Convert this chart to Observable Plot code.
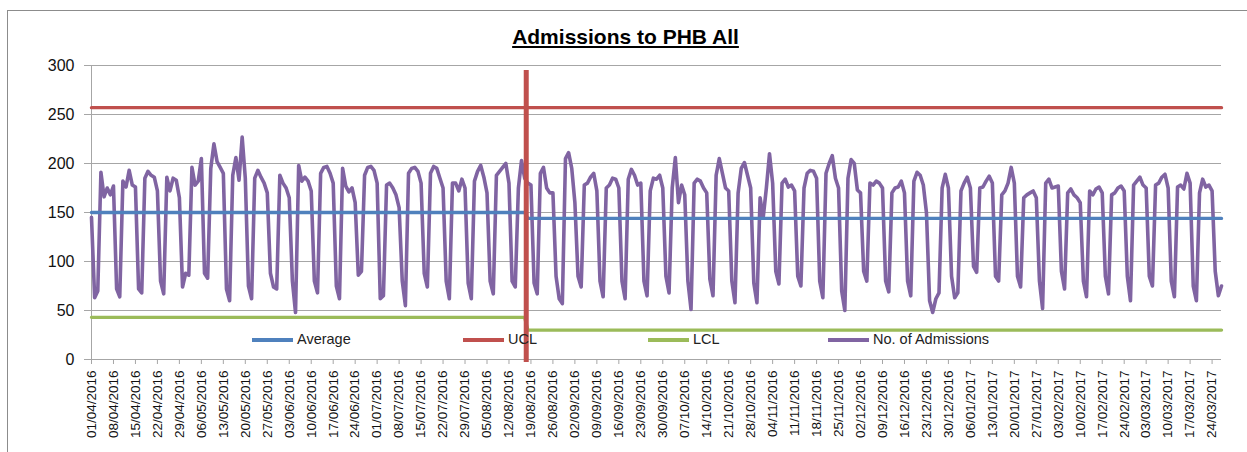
<!DOCTYPE html>
<html><head><meta charset="utf-8">
<script src="https://cdn.jsdelivr.net/npm/d3@7"></script>
<script src="https://cdn.jsdelivr.net/npm/@observablehq/plot@0.6"></script>
<style>
html,body{margin:0;padding:0;background:#fff;overflow:hidden;}
#wrap{position:relative;width:1247px;height:452px;overflow:hidden;font-family:"Liberation Sans",Arial,sans-serif;}
#border{position:absolute;left:7px;top:10px;width:1300px;height:500px;border:1px solid #8c8c8c;box-sizing:border-box;}
#title{position:absolute;left:0;width:1251px;top:25px;text-align:center;font-weight:bold;font-size:21px;text-decoration:underline;color:#000;}
#chart{position:absolute;left:0;top:0;}
.leg{position:absolute;font-size:14.5px;color:#222;white-space:nowrap;line-height:16px;}
.leg .l{position:absolute;top:6.5px;height:4px;}
</style></head><body>
<div id="wrap"><div id="border"></div><div id="chart"></div><div id="title">Admissions to PHB All</div><div id="legend"></div></div>
<script>
// Daily admissions, 01/04/2016 .. 27/03/2017, one array per month
const apr2016 = [145,63,70,191,166,175,168,177,72,64,182,176,193,178,176,72,68,185,192,188,186,172,80,67,186,172,185,183,165,74];
const may2016 = [88,86,196,178,182,205,88,83,195,220,202,196,190,72,60,188,206,183,227,185,75,62,185,193,186,180,170,88,74,72,188];
const jun2016 = [180,175,165,80,48,198,182,186,182,172,80,68,190,196,197,190,180,75,62,195,177,171,175,160,86,90,188,196,197,193];
const jul2016 = [180,62,65,178,180,175,168,155,80,55,190,195,196,192,180,88,74,190,197,195,185,175,80,62,180,180,172,184,175,78,62];
const aug2016 = [182,192,198,186,170,80,67,188,192,196,200,180,80,74,175,203,185,180,178,78,67,190,196,175,170,170,85,62,57,205,211];
const sep2016 = [195,160,85,74,178,180,186,190,172,80,64,175,178,185,184,175,80,62,184,194,188,178,180,80,65,172,185,184,188,175];
const oct2016 = [85,68,175,206,160,178,168,80,51,180,184,182,175,170,82,65,188,205,190,175,172,80,58,170,195,201,188,175,78,58,165];
const nov2016 = [145,175,210,180,90,77,180,184,176,178,172,85,75,175,190,193,192,185,80,63,190,200,208,185,175,70,50,185,204,200];
const dec2016 = [173,170,90,80,180,178,182,180,175,80,69,170,175,176,182,170,80,65,182,191,188,178,150,60,48,62,68,175,189,175,85];
const jan2017 = [63,68,172,180,186,175,95,89,175,176,182,187,180,85,80,168,172,180,196,180,85,74,165,168,170,172,165,80,52,180,184];
const feb2017 = [175,176,177,90,72,170,174,168,165,160,80,64,172,168,174,176,170,85,67,168,170,175,177,172,85,60,178,182];
const mar2017 = [186,178,175,85,75,178,180,186,189,175,80,64,176,178,174,190,180,75,60,170,184,176,178,172,90,65,75];

// Control limits (before / after the change on 17/08/2016)
const averageLevels = [150, 144];
const lclLevels = [43, 30];
const uclLevel = 257;
const yTickValues = [0, 50, 100, 150, 200, 250, 300];

const seriesNames = ["Average", "UCL", "LCL", "No. of Admissions"];
const seriesColors = ["#4F81BD", "#C0504D", "#9BBB59", "#8064A2"];

const startDate = new Date(Date.UTC(2016, 3, 1));
const lastBefore = new Date(Date.UTC(2016, 7, 17));
const firstAfter = new Date(Date.UTC(2016, 7, 18));
const changeDate = new Date(Date.UTC(2016, 7, 17, 12));

const admissions = [...apr2016, ...may2016, ...jun2016, ...jul2016, ...aug2016, ...sep2016,
  ...oct2016, ...nov2016, ...dec2016, ...jan2017, ...feb2017, ...mar2017];
const daily = admissions.map((v, i) => ({date: d3.utcDay.offset(startDate, i), value: v}));
const endDate = daily[daily.length - 1].date;

const stepSeries = (levels) => [
  {date: startDate, value: levels[0]}, {date: lastBefore, value: levels[0]},
  {date: firstAfter, value: levels[1]}, {date: endDate, value: levels[1]}
];
const avgData = stepSeries(averageLevels);
const lclData = stepSeries(lclLevels);
const uclData = [{date: startDate, value: uclLevel}, {date: endDate, value: uclLevel}];

const xTicks = d3.utcFriday.range(startDate, d3.utcDay.offset(endDate, 1));
const grid = "#a6a6a6";

const chart = Plot.plot({
  width: 1247, height: 452,
  marginLeft: 91, marginRight: 26, marginTop: 65, marginBottom: 93,
  x: {type: "utc", domain: [startDate, endDate]},
  y: {domain: [0, 300]},
  style: {fontFamily: '"Liberation Sans", Arial, sans-serif', color: "#111", background: "transparent", overflow: "visible"},
  marks: [
    Plot.gridY(yTickValues, {stroke: grid, strokeOpacity: 1}),
    Plot.ruleX([startDate], {y1: 0, y2: 300, stroke: grid}),
    Plot.ruleY([0], {stroke: grid}),
    Plot.axisY(yTickValues, {tickSize: 7, tickPadding: 10, fontSize: 16, stroke: grid, label: null}),
    Plot.axisX(xTicks, {tickFormat: d3.utcFormat("%d/%m/%Y"), tickRotate: -90, tickSize: 5, tickPadding: 6, fontSize: 13.5, stroke: grid, label: null}),
    Plot.line(daily, {x: "date", y: "value", stroke: seriesColors[3], strokeWidth: 3.6, strokeLinejoin: "round"}),
    Plot.line(avgData, {x: "date", y: "value", stroke: seriesColors[0], strokeWidth: 3.4}),
    Plot.line(lclData, {x: "date", y: "value", stroke: seriesColors[2], strokeWidth: 3.4}),
    Plot.line(uclData, {x: "date", y: "value", stroke: seriesColors[1], strokeWidth: 3.4}),
    Plot.ruleX([changeDate], {y1: -3, y2: 295, stroke: seriesColors[1], strokeWidth: 5, clip: false})
  ]
});
document.getElementById("chart").appendChild(chart);

// Legend (inside plot area, as in the original)
const legendLeft = [252, 463, 648, 828];
const legend = document.getElementById("legend");
seriesNames.forEach((name, i) => {
  const item = document.createElement("div");
  item.className = "leg";
  item.style.left = legendLeft[i] + "px";
  item.style.top = "331px";
  item.style.paddingLeft = "45px";
  const ln = document.createElement("span");
  ln.className = "l";
  ln.style.left = "0px";
  ln.style.width = "41px";
  ln.style.background = seriesColors[i];
  item.appendChild(ln);
  item.appendChild(document.createTextNode(name));
  legend.appendChild(item);
});
</script>
</body></html>
